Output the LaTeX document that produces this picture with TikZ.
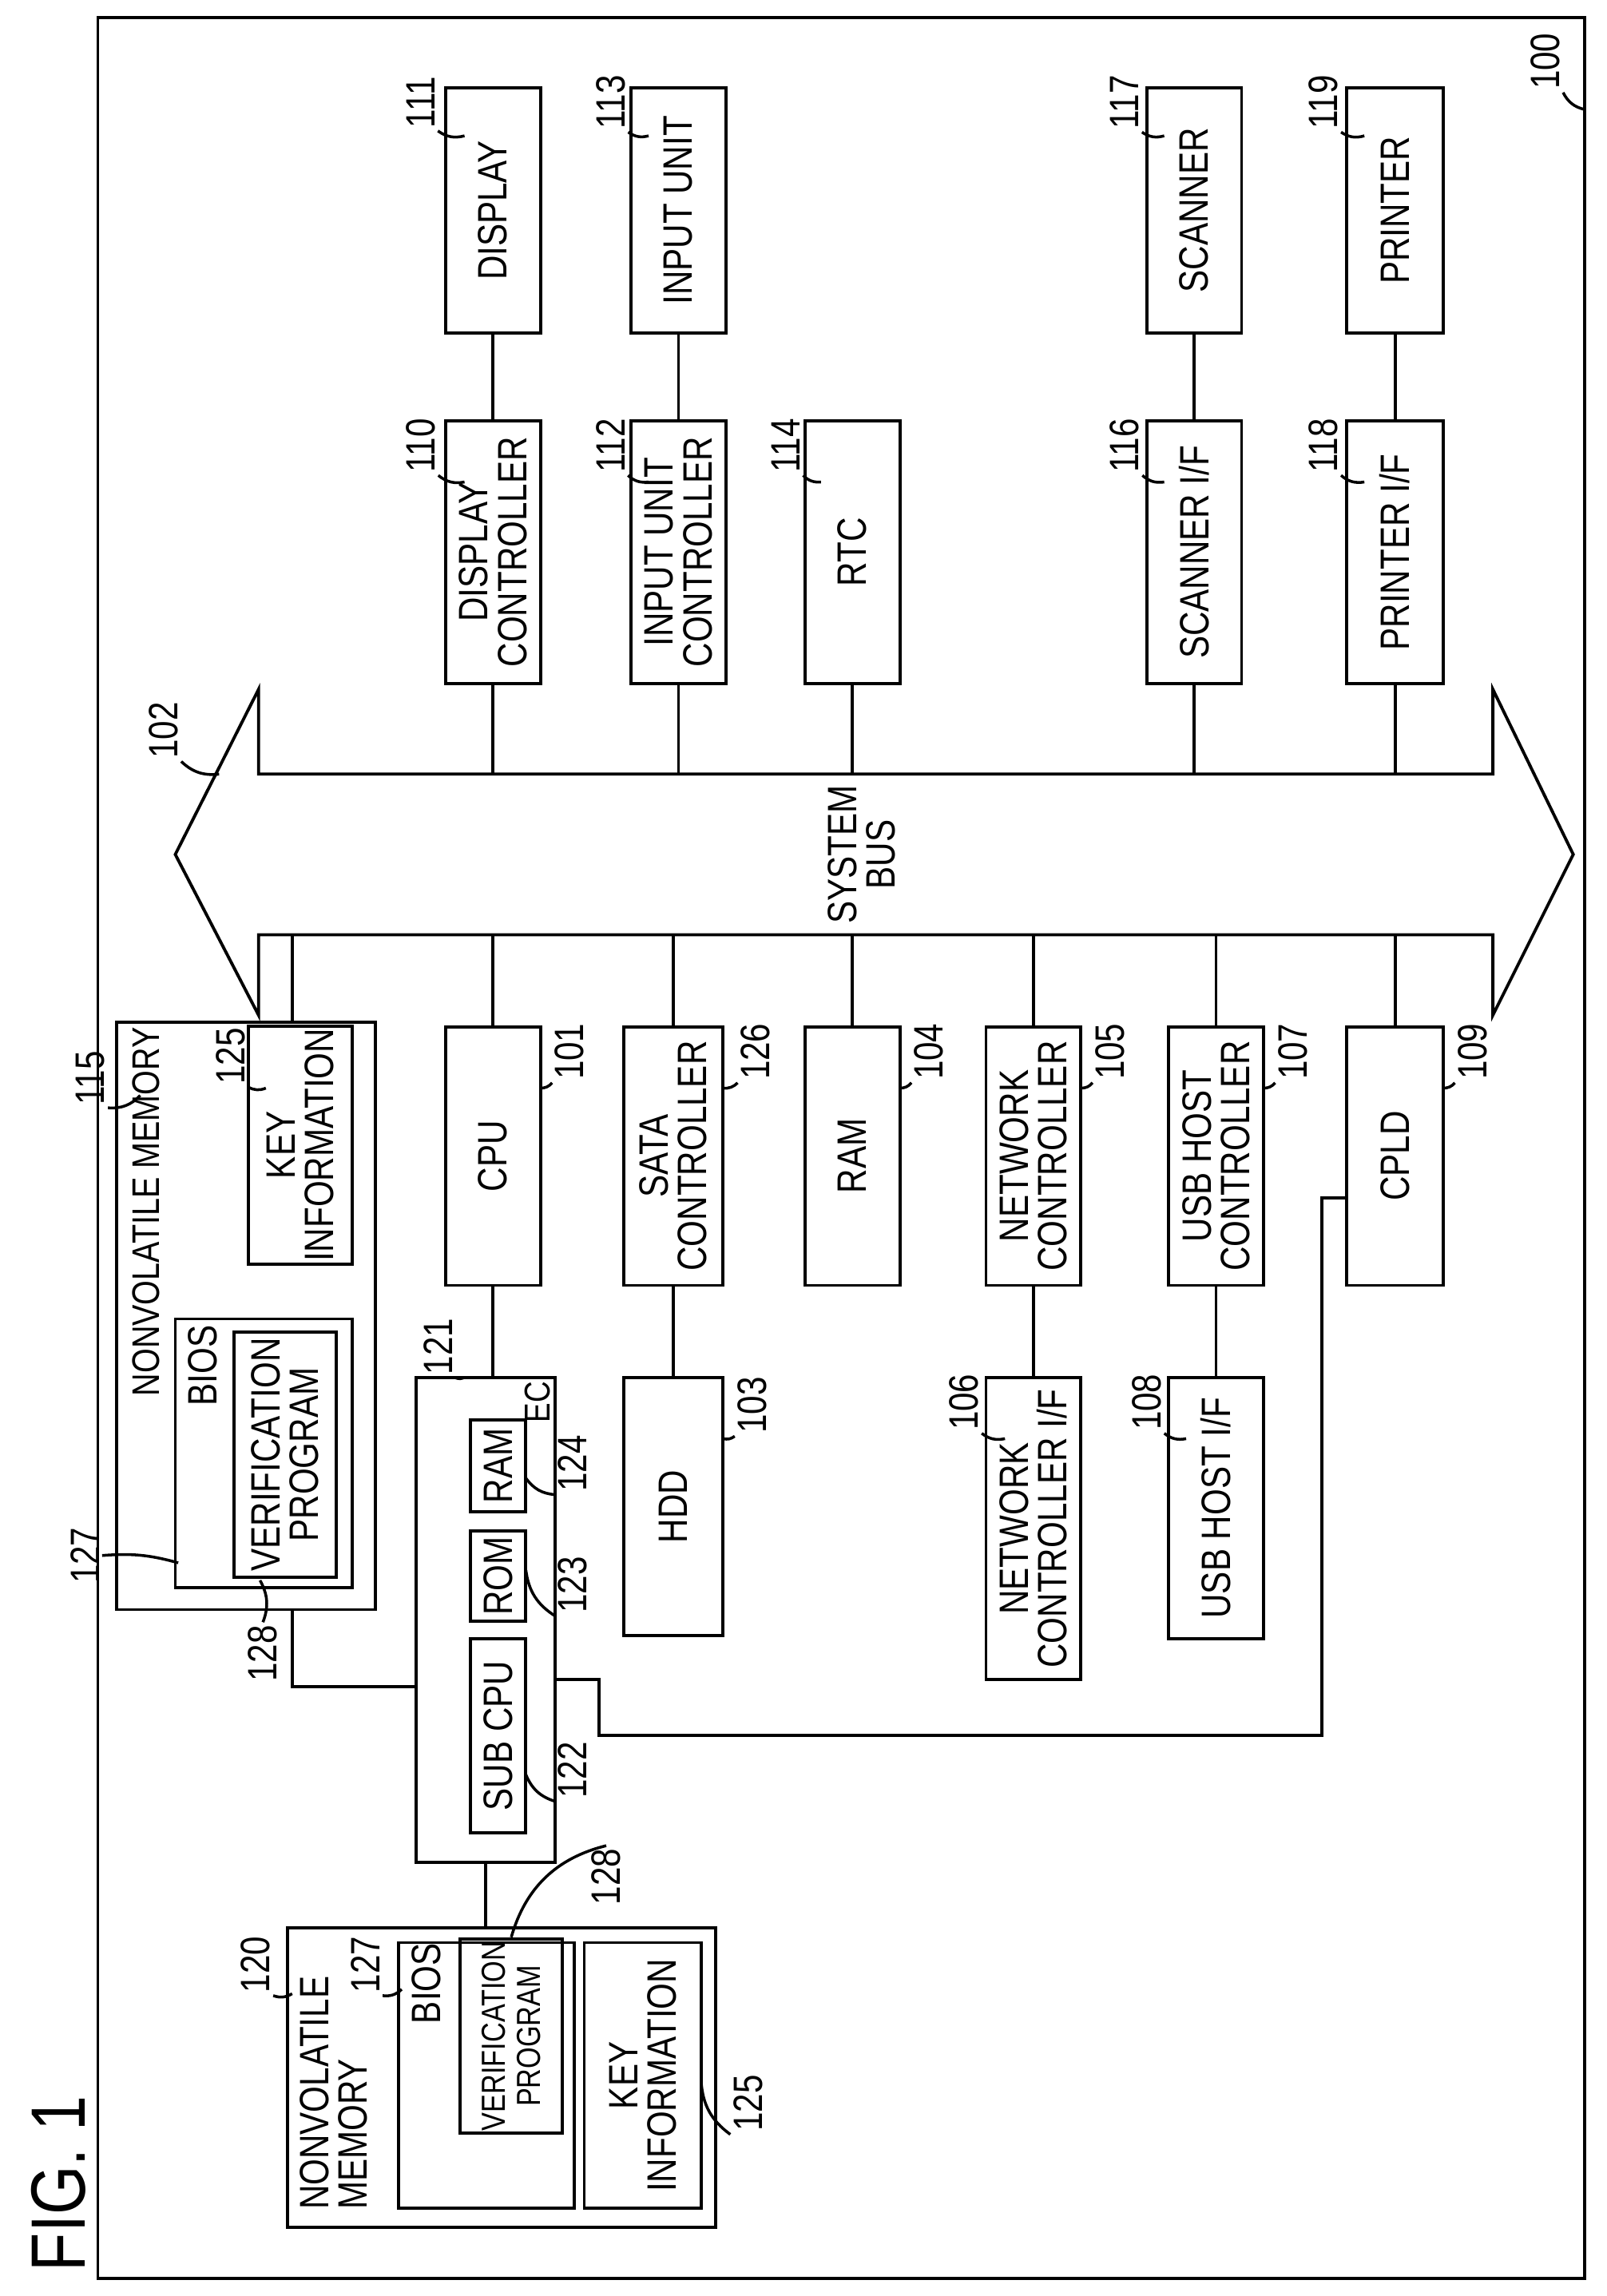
\documentclass[tikz,border=0pt]{standalone}
\usepackage{fontspec}
\setmainfont{Liberation Sans}[FakeStretch=0.82]
\tikzset{
  blk/.style={draw, line width=1.2pt, rotate=90, inner sep=1pt, align=center,
    font=\fontsize{16}{15}\selectfont},
  num/.style={rotate=90, inner sep=1pt, font=\fontsize{16}{15}\selectfont},
  lead/.style={line width=1.1pt},
  ln/.style={line width=1.2pt}
}
% block from corner (x1,y1) to corner (x2,y2), text turned
\newcommand\blk[7][]{\node[blk,#1, minimum width={(#6-#4)*0.02cm}, minimum height={(#5-#3)*0.02cm}]
  (#2) at ({(#3+#5)/2},{(#4+#6)/2}) {#7};}
\begin{document}
\begin{tikzpicture}[x=0.02cm, y=-0.02cm]
\useasboundingbox (0,0) rectangle (1100,1572);
\draw[ln] (67,12) rectangle (1085,1560);
\node[num, font=\fontsize{30}{32}\selectfont] (fig) at (40,1495) {FIG. 1};

% system bus
\draw[ln] (177,530) -- (1022,530) -- (1022,472) -- (1077,585) -- (1022,695) -- (1022,640)
  -- (177,640) -- (177,695) -- (120,585) -- (177,472) -- cycle;
\node[num, align=center] (bus) at (590,585) {SYSTEM\\BUS};
\coordinate (bt) at (0,530);
\coordinate (bb) at (0,640);

% upper row
\blk{disp}{305}{60}{370}{228}{DISPLAY}
\blk{inp}{432}{60}{497}{228}{INPUT UNIT}
\blk{scan}{785}{60}{850}{228}{SCANNER}
\blk{prn}{922}{60}{988}{228}{PRINTER}
\blk{dctl}{305}{288}{370}{468}{DISPLAY\\CONTROLLER}
\blk{ictl}{432}{288}{497}{468}{INPUT UNIT\\CONTROLLER}
\blk{rtc}{551}{288}{616}{468}{RTC}
\blk{sif}{785}{288}{850}{468}{SCANNER I/F}
\blk{pif}{922}{288}{988}{468}{PRINTER I/F}
\foreach \a/\b in {disp/dctl, inp/ictl, scan/sif, prn/pif}
  \draw[ln] (\a.west) -- (\b.east);
\foreach \a in {dctl, ictl, rtc, sif, pif}
  \draw[ln] (\a.west) -- (\a.west |- bt);

% lower row
\blk{cpu}{305}{703}{370}{880}{CPU}
\blk{sata}{427}{703}{495}{880}{SATA\\CONTROLLER}
\blk{ram}{551}{703}{616}{880}{RAM}
\blk{nctl}{675}{703}{740}{880}{NETWORK\\CONTROLLER}
\blk{uctl}{800}{703}{865}{880}{USB HOST\\CONTROLLER}
\blk{cpld}{922}{703}{988}{880}{CPLD}
\blk{hdd}{427}{943}{495}{1120}{HDD}
\blk{nif}{675}{943}{740}{1150}{NETWORK\\CONTROLLER I/F}
\blk{uif}{800}{943}{865}{1122}{USB HOST I/F}
\foreach \a in {cpu, sata, ram, nctl, uctl, cpld}
  \draw[ln] (\a.east) -- (\a.east |- bb);
\foreach \a/\b in {sata/hdd, nctl/nif, uctl/uif}
  \draw[ln] (\a.west) -- (\b.east);

% EC
\blk{ec}{285}{943}{380}{1275}{}
\node[num, font=\fontsize{14}{14}\selectfont] (ect) at (368,960) {EC};
\blk{ecram}{322}{972}{360}{1035}{RAM}
\blk{rom}{322}{1048}{360}{1110}{ROM}
\blk{sub}{322}{1122}{360}{1255}{SUB CPU}
\draw[ln] (cpu.west) -- (cpu.west |- ec.east);

% nonvolatile memory 115
\blk{nv1}{80}{700}{257}{1102}{}
\node[num, anchor=west, font=\fontsize{15}{15}\selectfont] (nv1t) at (100,958) {NONVOLATILE MEMORY};
\blk{key1}{170}{713}{241}{855}{KEY\\INFORMATION}
\blk{bios1}{120}{903}{241}{1087}{}
\node[num] (bios1t) at (139,935) {BIOS};
\blk{ver1}{160}{912}{230}{1080}{VERIFICATION\\PROGRAM}
\draw[ln] (200,700) -- (200,640);
\coordinate (c1) at (200,1155);
\draw[ln] (200,1102) -- (c1) -- (c1 -| ec.north);

% CPLD to EC
\coordinate (c2) at (905,820);
\coordinate (c3) at (905,1188);
\coordinate (c4) at (410,1188);
\draw[ln] (cpld.north |- c2) -- (c2) -- (c3) -- (c4) -- (410,1150) -- (ec.south |- 0,1150);

% nonvolatile memory 120
\blk{nv2}{197}{1320}{490}{1525}{}
\node[num, align=left, anchor=north west] (nv2t) at (203,1515) {NONVOLATILE\\MEMORY};
\blk{bios2}{273}{1330}{393}{1512}{}
\node[num] (bios2t) at (292,1358) {BIOS};
\blk[font=\fontsize{13}{14}\selectfont]{ver2}{315}{1338}{385}{1450}{VERIFICATION\\PROGRAM}
\blk{key2}{400}{1330}{480}{1512}{KEY\\INFORMATION}
\draw[ln] (ec.west) -- (ec.west |- nv2.east);

% reference numerals
\foreach \n/\x/\y/\tx/\ty in {100/1058/42/1085/75, 111/288/70/318/93, 113/418/70/444/93,
  117/770/70/797/93, 119/906/70/934/93, 110/288/305/318/330, 112/418/305/444/330,
  114/538/305/562/330, 116/770/305/797/330, 118/906/305/934/330, 102/112/500/150/530,
  115/62/738/96/750, 125/158/723/182/745, 121/300/922/318/943, 106/660/960/688/985,
  108/785/960/812/985, 120/175/1345/200/1365, 127/250/1345/275/1362}
  {\node[num] (n\n) at (\x,\y) {\n};
   \draw[lead] (n\n.south west) to[bend right=25] (\tx,\ty);}
\foreach \n/\x/\y/\tx/\ty in {101/390/720/370/745, 126/517/720/495/745, 104/636/720/616/745,
  105/760/720/740/745, 107/885/720/865/745, 109/1008/720/988/745, 103/515/962/495/985,
  124/392/1002/360/1012, 123/392/1085/360/1075, 122/392/1212/360/1215,
  125/512/1440/480/1425}
  {\node[num] (m\n) at (\x,\y) {\n};
   \draw[lead] (\tx,\ty) to[bend right=25] (m\n.north west);}
\node[num] (m127) at (58,1065) {127};
\draw[lead] (m127.south) to[bend left=10] (122,1070);
\node[num] (m128) at (180,1132) {128};
\draw[lead] (m128.east) to[bend right=25] (178,1082);
\node[num] (m128b) at (415,1285) {128};
\draw[lead] (m128b.east) to[bend right=30] (ver2.east);
\end{tikzpicture}
\end{document}
